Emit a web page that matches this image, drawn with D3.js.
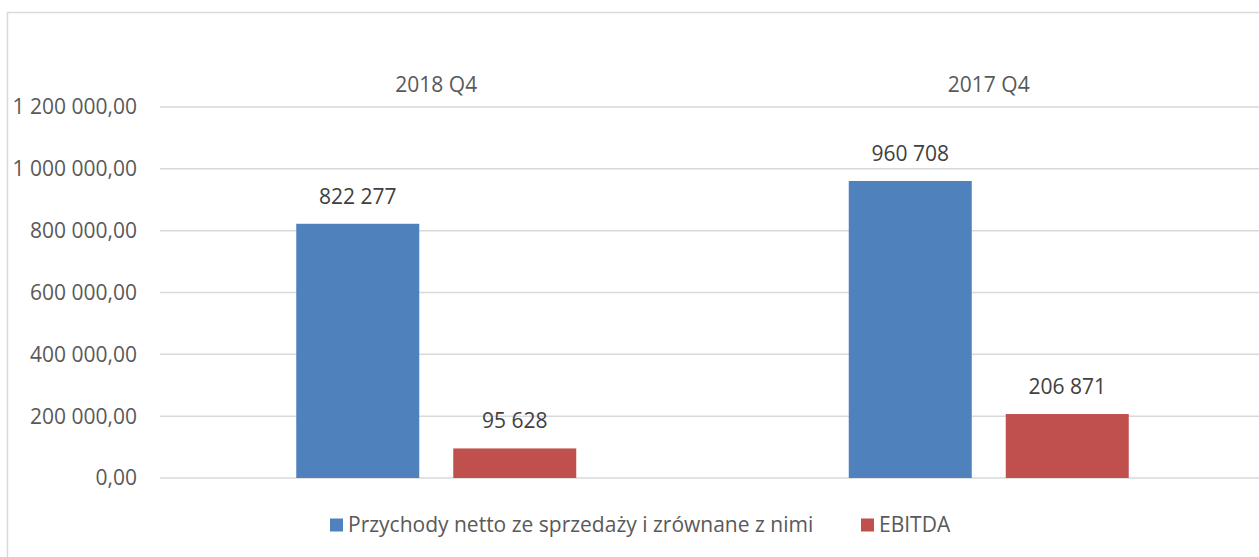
<!DOCTYPE html>
<html>
<head>
<meta charset="utf-8">
<script src="https://cdn.jsdelivr.net/npm/d3@7"></script>
<style>
  body { margin: 0; background: #fff; }
  svg { display: block; font-family: "Open Sans", sans-serif; }
</style>
</head>
<body>
<svg id="chart" width="1259" height="557"></svg>
<script>
// data
const categories = ['2018 Q4', '2017 Q4'];
const seriesNames = ['Przychody netto ze sprzedaży i zrównane z nimi', 'EBITDA'];
const revenue = [822277, 960708];
const ebitda = [95628, 206871];
const yTicks = [0, 200000, 400000, 600000, 800000, 1000000, 1200000];
const colors = ['#4F81BD', '#C0504D'];

const width = 1259, height = 557;
const margin = { top: 107, right: -6, bottom: 79, left: 160 };
const innerWidth = width - margin.left - margin.right;
const innerHeight = height - margin.top - margin.bottom;
const groupWidth = 280;

const svg = d3.select('#chart');

// chart border (runs off the right and bottom edge as in the source)
svg.append('rect')
  .attr('x', 7.5).attr('y', 12.5)
  .attr('width', 1300).attr('height', 600)
  .attr('fill', 'none')
  .attr('stroke', '#d9d9d9')
  .attr('stroke-width', 1.5);

const g = svg.append('g')
  .attr('transform', `translate(${margin.left},${margin.top})`);

const x0 = d3.scaleBand()
  .domain(categories)
  .range([0, innerWidth]);

// two bars per group: 123px wide, 34px gap
const x1 = d3.scaleBand()
  .domain([0, 1])
  .range([0, groupWidth])
  .paddingInner(34 / 157);

const yScale = d3.scaleLinear()
  .domain([0, 1200000])
  .range([innerHeight, 0]);

// gridlines
g.selectAll('.grid')
  .data(yTicks)
  .enter()
  .append('line')
  .attr('x1', 0)
  .attr('x2', innerWidth)
  .attr('y1', d => yScale(d))
  .attr('y2', d => yScale(d))
  .attr('stroke', '#d9d9d9')
  .attr('stroke-width', 1.5);

// y axis labels
const fmt = d => d3.format(',.2f')(d).replace(/,/g, ' ').replace('.', ',');
g.selectAll('.ylab')
  .data(yTicks)
  .enter()
  .append('text')
  .attr('x', -23)
  .attr('y', d => yScale(d))
  .attr('dy', '0.35em')
  .attr('text-anchor', 'end')
  .attr('fill', '#595959')
  .style('font-size', '21px')
  .text(fmt);

// category labels at top
g.selectAll('.cat')
  .data(categories)
  .enter()
  .append('text')
  .attr('x', d => x0(d) + x0.bandwidth() / 2)
  .attr('y', -15)
  .attr('text-anchor', 'middle')
  .attr('fill', '#595959')
  .style('font-size', '21px')
  .text(d => d);

// bars
const rows = categories.map((c, i) => ({ cat: c, values: [revenue[i], ebitda[i]] }));
const groupOffset = (x0.bandwidth() - groupWidth) / 2;

const groups = g.selectAll('.group')
  .data(rows)
  .enter()
  .append('g')
  .attr('transform', d => `translate(${x0(d.cat) + groupOffset},0)`);

groups.selectAll('rect')
  .data(d => d.values.map((v, i) => ({ v, i })))
  .enter()
  .append('rect')
  .attr('x', d => x1(d.i))
  .attr('y', d => yScale(d.v))
  .attr('width', x1.bandwidth())
  .attr('height', d => innerHeight - yScale(d.v))
  .attr('fill', d => colors[d.i]);

const valFmt = d => d3.format(',')(d).replace(/,/g, ' ');
groups.selectAll('.val')
  .data(d => d.values.map((v, i) => ({ v, i })))
  .enter()
  .append('text')
  .attr('x', d => x1(d.i) + x1.bandwidth() / 2)
  .attr('y', d => yScale(d.v) - 20)
  .attr('text-anchor', 'middle')
  .attr('fill', '#404040')
  .style('font-size', '21px')
  .text(d => valFmt(d.v));

// legend
const legend = svg.append('g').attr('transform', 'translate(0,525)');
const legendX = [330, 861];
seriesNames.forEach((name, i) => {
  legend.append('rect')
    .attr('x', legendX[i]).attr('y', -6.5)
    .attr('width', 13).attr('height', 13)
    .attr('fill', colors[i]);
  legend.append('text')
    .attr('x', legendX[i] + 18)
    .attr('y', 0)
    .attr('dy', '0.35em')
    .attr('fill', '#595959')
    .style('font-size', '21px')
    .text(name);
});
</script>
</body>
</html>
